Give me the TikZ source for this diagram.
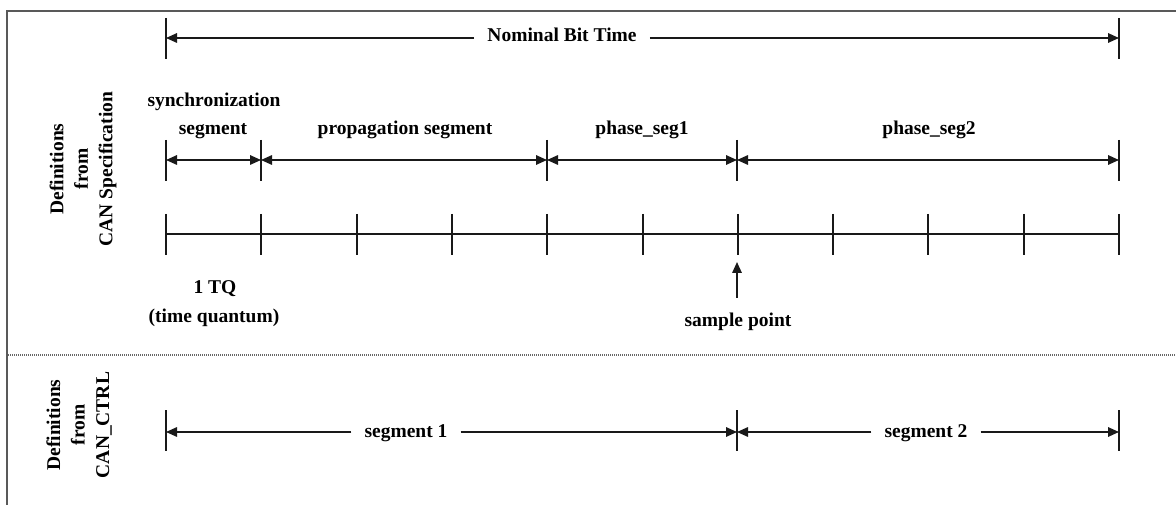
\documentclass[tikz,border=0pt]{standalone}
\usepackage{fontspec}
\setmainfont{Liberation Serif}
\usetikzlibrary{arrows.meta}
\begin{document}
\begin{tikzpicture}[x=1pt,y=-1pt,
  lbl/.style={font=\bfseries\fontsize{19.5}{24}\selectfont, inner sep=0pt, text height=0.68em, text depth=0.2em},
  gaplbl/.style={lbl, inner xsep=13pt},
  vlbl/.style={font=\bfseries\fontsize{19.5}{24.5}\selectfont, rotate=90, align=center, inner sep=0pt},
  tick/.style={line width=2pt, black!90},
  arr/.style={line width=1.6pt, black!90, -{Triangle[length=11pt,width=9.5pt]}},
  darr/.style={line width=1.6pt, black!90, {Triangle[length=11pt,width=9.5pt]}-{Triangle[length=11pt,width=9.5pt]}},
  frame/.style={line width=1.8pt, black!65},
  divider/.style={line width=2.4pt, black!60, dash pattern=on 1pt off 1pt}]
\useasboundingbox (0,0) rectangle (1176,505);

% frame and divider
\coordinate (ftl) at (7,11);
\coordinate (ftr) at (1178,11);
\coordinate (fbl) at (7,507);
\coordinate (dl) at (8,355);
\coordinate (dr) at (1178,355);
\draw[frame] (ftr) -- (ftl) -- (fbl);
\draw[divider] (dl) -- (dr);

% side labels
\node[vlbl] (specl) at (83,169) {Definitions\\from\\CAN Specification};
\node[vlbl] (ctrll) at (79,425) {Definitions\\from\\CAN\_CTRL};

% Nominal bit time
\coordinate (nL) at (166,38);
\coordinate (nR) at (1119,38);
\draw[tick] (166,18) -- (166,59);
\draw[tick] (1119,18) -- (1119,59);
\node[gaplbl] (nbt) at (562,39) {Nominal Bit Time};
\draw[arr] (nbt.west |- nL) -- (nL);
\draw[arr] (nbt.east |- nR) -- (nR);

% segment row
\foreach \n/\x in {s0/166,s1/261,s2/547,s3/737,s4/1119}{
  \coordinate (\n) at (\x,160);
  \draw[tick] (\x,140) -- (\x,181);
}
\draw[darr] (s0) -- (s1);
\draw[darr] (s1) -- (s2);
\draw[darr] (s2) -- (s3);
\draw[darr] (s3) -- (s4);
\node[lbl] (sync1) at (214,104) {synchronization};
\node[lbl] (sync2) at (213,132) {segment};
\node[lbl] (prop) at (405,132) {propagation segment};
\node[lbl] (ps1) at (642,132) {phase\_seg1};
\node[lbl] (ps2) at (929,132) {phase\_seg2};

% time quanta line
\foreach \i in {0,...,10}{
  \coordinate (q\i) at ({166+95.3*\i},234);
  \draw[tick] ({166+95.3*\i},214) -- ({166+95.3*\i},255);
}
\draw[line width=1.6pt, black!90] (q0) -- (q10);
\node[lbl] (tq1) at (215,291) {1 TQ};
\node[lbl] (tq2) at (214,320) {(time quantum)};
\coordinate (spt) at (737,262);
\node[lbl] (sp) at (738,324) {sample point};
\draw[arr] (737,298) -- (spt);

% CAN_CTRL row
\foreach \n/\x in {c0/166,c1/737,c2/1119}{
  \coordinate (\n) at (\x,432);
  \draw[tick] (\x,410) -- (\x,451);
}
\node[lbl, inner xsep=13pt] (seg1) at (406,435) {segment 1};
\node[lbl, inner xsep=13pt] (seg2) at (926,435) {segment 2};
\draw[arr] (seg1.west |- c0) -- (c0);
\draw[arr] (seg1.east |- c1) -- (c1);
\draw[arr] (seg2.west |- c1) -- (c1);
\draw[arr] (seg2.east |- c2) -- (c2);
\end{tikzpicture}
\end{document}
